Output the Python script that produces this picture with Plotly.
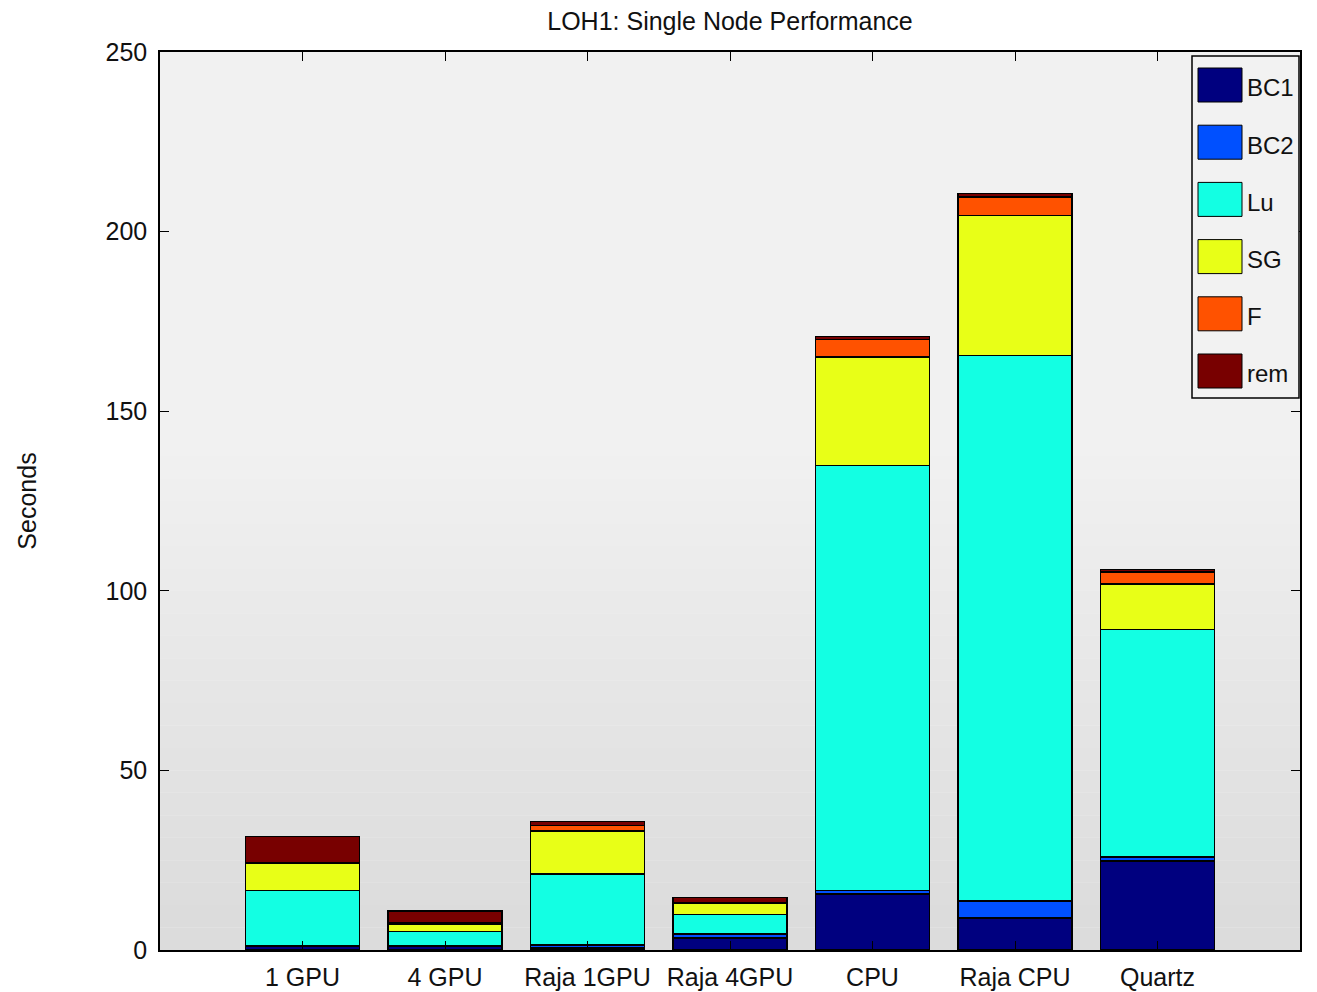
import plotly.graph_objects as go

# dados (segundos)
categorias = ["1 GPU", "4 GPU", "Raja 1GPU", "Raja 4GPU", "CPU", "Raja CPU", "Quartz"]
bc1 = [1.0, 1.0, 0.6, 3.4, 15.6, 8.9, 24.8]
bc2 = [0.3, 0.3, 0.8, 1.0, 0.9, 4.8, 1.1]
lu = [15.3, 3.9, 19.8, 5.5, 118.4, 151.8, 63.3]
sg = [7.5, 2.1, 12.0, 3.0, 30.2, 39.0, 12.7]
f = [0.2, 0.2, 1.5, 0.3, 4.8, 5.2, 3.3]
rem = [7.3, 3.4, 1.1, 1.4, 0.9, 0.9, 0.8]

series = [
    ("BC1", bc1, "#00007f"),
    ("BC2", bc2, "#0050ff"),
    ("Lu", lu, "#13ffe3"),
    ("SG", sg, "#e8ff17"),
    ("F", f, "#ff5200"),
    ("rem", rem, "#780000"),
]

# a página tem margem de 8px no body
OFF = 8
W, H = 1317 - OFF, 992 - OFF
PX0, PX1, PY0, PY1 = 160, 1300, 52, 950  # área do gráfico na tela


def px_x(x):
    return (x - PX0) / (PX1 - PX0)


def px_y(y):
    return (PY1 - y) / (PY1 - PY0)


posicoes = list(range(1, len(categorias) + 1))

fig = go.Figure()
for nome, valores, cor in series:
    fig.add_trace(go.Bar(
        x=posicoes,
        y=valores,
        name=nome,
        width=0.8,
        marker=dict(color=cor, line=dict(color="black", width=1.5)),
        showlegend=False,
    ))

fonte = dict(family="Liberation Sans, Arial, sans-serif", size=25, color="#111")

fig.update_layout(
    barmode="stack",
    width=W,
    height=H,
    paper_bgcolor="white",
    plot_bgcolor="#f1f1f1",
    margin=dict(l=PX0 - OFF, r=1317 - PX1, t=PY0 - OFF, b=992 - PY1),
    font=fonte,
    title=dict(
        text="LOH1: Single Node Performance",
        xref="container",
        x=(730 - OFF) / W,
        xanchor="center",
        yref="container",
        y=1 - (21 - OFF) / H,
        yanchor="middle",
        font=dict(size=25),
    ),
    xaxis=dict(
        range=[0, 8],
        tickmode="array",
        tickvals=posicoes,
        ticktext=categorias,
        ticks="inside",
        ticklen=9,
        tickcolor="black",
        showline=True,
        linecolor="black",
        linewidth=1.5,
        mirror="ticks",
        showgrid=False,
        zeroline=False,
        tickfont=dict(size=25),
        ticklabelstandoff=4,
        automargin=False,
    ),
    yaxis=dict(
        range=[0, 250],
        tickvals=[0, 50, 100, 150, 200, 250],
        ticks="inside",
        ticklen=9,
        tickcolor="black",
        showline=True,
        linecolor="black",
        linewidth=1.5,
        mirror="ticks",
        showgrid=False,
        zeroline=False,
        tickfont=dict(size=25),
        ticklabelstandoff=6,
        automargin=False,
        title=dict(text="Seconds", font=dict(size=25), standoff=62),
    ),
)

# fundo em degradê (escurece para baixo)
n = 40
for i in range(n):
    t = i / n
    if t < 0.55:
        c = int(0xdc + (0xf1 - 0xdc) * (t / 0.55))
    else:
        c = 0xf1
    fig.add_shape(type="rect", xref="paper", yref="paper", layer="below",
                  x0=0, x1=1, y0=t, y1=(i + 1) / n,
                  fillcolor=f"rgb({c},{c},{c})", line=dict(width=0))

# legenda desenhada à mão (quadrados grandes como no original)
fig.add_shape(type="rect", xref="paper", yref="paper",
              x0=px_x(1192), x1=px_x(1299), y0=px_y(398), y1=px_y(56),
              fillcolor="#f2f2f2", line=dict(color="black", width=1.5))
for i, (nome, _, cor) in enumerate(series):
    yc = 85 + i * 57.2
    fig.add_shape(type="rect", xref="paper", yref="paper",
                  x0=px_x(1198), x1=px_x(1242), y0=px_y(yc + 17), y1=px_y(yc - 17),
                  fillcolor=cor, line=dict(color="black", width=1))
    fig.add_annotation(xref="paper", yref="paper", x=px_x(1245), y=px_y(yc + 3),
                       text=nome, showarrow=False, xanchor="left", yanchor="middle",
                       font=dict(size=24, color="#111"))

fig.write_html("out.html")
